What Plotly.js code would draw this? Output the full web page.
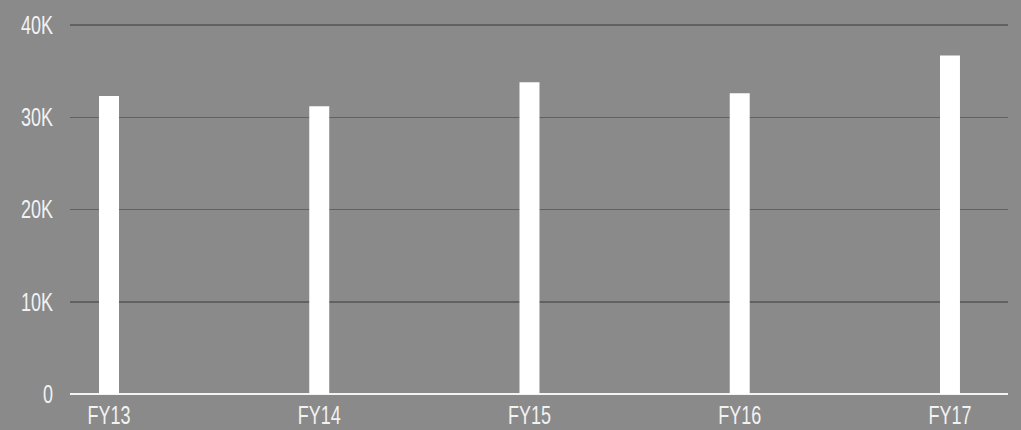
<!DOCTYPE html>
<html><head><meta charset="utf-8">
<script src="https://cdn.plot.ly/plotly-3.0.1.min.js"></script>
<style>html,body{margin:0;padding:0;background:#8a8a8a;}#chart{width:1021px;height:430px;}</style>
</head><body><div id="chart"></div>
<script>
const categories = ["FY13","FY14","FY15","FY16","FY17"];
const values = [32300, 31200, 33800, 32600, 36700];
const yTickVals = [0, 10000, 20000, 30000, 40000];
const yTickText = ["0", "10K", "20K", "30K", "40K"];

const fontFam = '"Liberation Sans", Arial, sans-serif';
function narrow(gd) {
  gd.querySelectorAll('.xtick text, .ytick text').forEach(t => {
    const x = parseFloat(t.getAttribute('x')) || 0;
    const prev = t.getAttribute('transform') || '';
    t.setAttribute('transform', prev + ` translate(${x},0) scale(0.72,1) translate(${-x},0)`);
  });
}
Plotly.newPlot('chart', [{
  type: 'bar', x: categories, y: values,
  marker: {color: '#ffffff', line: {width: 0}},
  width: 0.095, hoverinfo: 'skip'
}], {
  width: 1021, height: 430,
  paper_bgcolor: '#8a8a8a', plot_bgcolor: '#8a8a8a',
  margin: {l: 70, r: 13, t: 24, b: 36},
  showlegend: false,
  xaxis: {type: 'category', range: [-0.1855, 4.276], showgrid: false, zeroline: false,
    showline: false, ticks: '', ticklabelstandoff: 4,
    tickfont: {family: fontFam, size: 25, color: '#f2f2f2'}},
  yaxis: {range: [0, 40120], tickvals: yTickVals, ticktext: yTickText,
    showgrid: true, gridcolor: '#616161', gridwidth: 1.5,
    zeroline: true, zerolinecolor: '#f4f4f4', zerolinewidth: 2.5,
    showline: false, ticks: '', ticklabelstandoff: 16,
    tickfont: {family: fontFam, size: 25, color: '#f2f2f2'}}
}, {displayModeBar: false, staticPlot: true}).then(narrow);
</script></body></html>
